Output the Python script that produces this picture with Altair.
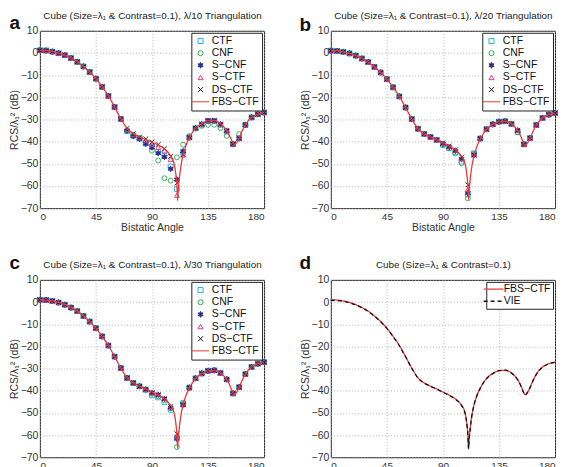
import altair as alt
import pandas as pd

# ---------------- data ----------------
ANGLES = [0, 5, 10, 15, 20, 25, 30, 35, 40, 45, 50, 55, 60, 65, 70, 75, 80, 85, 90,
          95, 100, 105, 110, 115, 120, 125, 130, 135, 140, 145, 150, 155, 160, 165,
          170, 175, 180]

SERIES = ["CTF", "CNF", "S−CNF", "S−CTF", "DS−CTF"]
LINE_NAME = "FBS−CTF"

# panel a (lambda/10)
A_CTF = [1.2, 1.1, 0.6, -0.1, -1.0, -2.3, -4.0, -6.1, -8.6, -11.6, -15.3, -19.4, -24.4, -29.8,
         -35.3, -37.3, -38.6, -40.8, -42.3, -44.6, -46.5, -51.2, -61.4, -45.0,
         -38.2, -34.0, -32.3, -30.7, -30.7, -32.4, -35.5, -41.2, -38.5, -32.5, -29.1, -27.7, -26.9]
A_CNF = [1.2, 1.1, 0.6, -0.1, -1.0, -2.3, -4.0, -6.1, -8.6, -11.6, -15.3, -19.4, -24.4, -29.8,
         -35.2, -37.0, -38.5, -40.3, -44.1, -48.5, -56.5, -57.6, -47.1, -41.4,
         -37.5, -34.0, -32.9, -32.4, -32.4, -33.9, -37.4, -41.2, -36.6, -32.4, -29.0, -27.6, -26.8]
A_SCNF = [1.2, 1.1, 0.6, -0.1, -1.0, -2.3, -4.0, -6.1, -8.6, -11.6, -15.3, -19.4, -24.4, -29.8,
          -35.0, -37.6, -38.8, -41.0, -42.6, -45.2, -46.9, -52.3, -57.0, -44.3,
          -38.1, -33.9, -32.2, -30.6, -30.6, -32.2, -35.1, -41.1, -38.6, -32.5, -29.1, -27.6, -26.9]
A_SCTF = [1.2, 1.1, 0.6, -0.1, -1.0, -2.3, -4.0, -6.1, -8.6, -11.6, -15.3, -19.4, -24.4, -29.7,
          -34.5, -36.8, -38.2, -39.5, -41.2, -42.5, -44.1, -48.0, -64.2, -46.0,
          -38.0, -33.9, -32.1, -30.4, -30.4, -32.1, -35.0, -41.0, -38.4, -32.4, -29.0, -27.6, -26.8]
A_DS = [1.2, 1.1, 0.6, -0.1, -1.0, -2.3, -4.0, -6.1, -8.6, -11.6, -15.3, -19.4, -24.4, -29.7,
        -34.0, -36.5, -38.0, -38.8, -40.2, -41.3, -43.2, -46.7, -58.7, -45.9,
        -38.0, -33.9, -32.1, -30.4, -30.4, -32.1, -35.0, -41.0, -38.4, -32.4, -29.0, -27.6, -26.8]

# panel b (lambda/20)
B_CTF = [1.0, 0.9, 0.5, -0.2, -1.2, -2.5, -4.1, -6.3, -8.8, -11.8, -15.5, -19.6, -24.6, -29.8,
         -34.2, -36.5, -37.9, -39.2, -41.4, -42.9, -44.8, -49.0, -63.8, -45.3,
         -38.6, -34.4, -32.2, -31.0, -30.8, -32.0, -35.6, -41.2, -38.4, -32.5, -29.3, -27.8, -27.1]
B_CNF = [1.0, 0.9, 0.5, -0.2, -1.2, -2.5, -4.1, -6.3, -8.8, -11.8, -15.5, -19.6, -24.6, -29.8,
         -34.2, -36.5, -37.9, -39.3, -41.6, -43.1, -45.3, -49.7, -65.6, -45.5,
         -38.6, -34.4, -32.2, -31.0, -30.8, -32.0, -35.8, -41.2, -38.4, -32.5, -29.3, -27.8, -27.1]
B_SCNF = [1.0, 0.9, 0.5, -0.2, -1.2, -2.5, -4.1, -6.3, -8.8, -11.8, -15.5, -19.6, -24.6, -29.8,
          -34.2, -36.5, -37.9, -39.2, -41.0, -42.5, -44.2, -47.8, -63.2, -46.0,
          -38.6, -34.4, -32.2, -31.0, -30.8, -32.0, -34.9, -41.2, -38.4, -32.5, -29.3, -27.8, -27.1]
B_SCTF = [1.0, 0.9, 0.5, -0.2, -1.2, -2.5, -4.1, -6.3, -8.8, -11.8, -15.5, -19.6, -24.6, -29.8,
          -34.2, -36.5, -37.9, -39.2, -40.6, -42.0, -43.7, -47.5, -61.5, -46.0,
          -38.6, -34.4, -32.2, -31.0, -30.8, -32.0, -34.9, -41.2, -38.4, -32.5, -29.3, -27.8, -27.1]
B_DS = [1.0, 0.9, 0.5, -0.2, -1.2, -2.5, -4.1, -6.3, -8.8, -11.8, -15.5, -19.6, -24.6, -29.8,
        -34.2, -36.5, -37.9, -39.2, -40.6, -42.0, -43.7, -47.0, -59.5, -46.0,
        -38.6, -34.4, -32.2, -31.0, -30.8, -32.0, -34.9, -41.2, -38.4, -32.5, -29.3, -27.8, -27.1]

# panel c (lambda/30)
C_CTF = [1.0, 0.9, 0.5, -0.2, -1.2, -2.5, -4.1, -6.3, -8.8, -11.8, -15.5, -19.6, -24.6, -29.8,
         -34.2, -36.5, -38.0, -39.6, -42.1, -43.0, -45.1, -48.6, -61.5, -45.6,
         -38.6, -34.4, -32.2, -31.0, -30.8, -32.0, -34.9, -41.2, -38.4, -32.5, -29.3, -27.8, -27.1]
C_CNF = [1.0, 0.9, 0.5, -0.2, -1.2, -2.5, -4.1, -6.3, -8.8, -11.8, -15.5, -19.6, -24.6, -29.8,
         -34.2, -36.5, -38.0, -39.5, -41.5, -42.6, -44.3, -48.0, -65.4, -45.8,
         -38.6, -34.4, -32.2, -31.0, -30.8, -32.0, -34.9, -41.2, -38.4, -32.5, -29.3, -27.8, -27.1]
C_SCNF = [1.0, 0.9, 0.5, -0.2, -1.2, -2.5, -4.1, -6.3, -8.8, -11.8, -15.5, -19.6, -24.6, -29.8,
          -34.2, -36.5, -38.0, -39.4, -40.9, -41.8, -43.6, -47.6, -61.6, -46.3,
          -38.6, -34.4, -32.2, -31.0, -30.8, -32.0, -34.9, -41.2, -38.4, -32.5, -29.3, -27.8, -27.1]
C_SCTF = [1.0, 0.9, 0.5, -0.2, -1.2, -2.5, -4.1, -6.3, -8.8, -11.8, -15.5, -19.6, -24.6, -29.8,
          -34.2, -36.5, -38.0, -39.4, -40.9, -41.8, -43.6, -47.2, -60.5, -46.3,
          -38.6, -34.4, -32.2, -31.0, -30.8, -32.0, -34.9, -41.2, -38.4, -32.5, -29.3, -27.8, -27.1]
C_DS = [1.0, 0.9, 0.5, -0.2, -1.2, -2.5, -4.1, -6.3, -8.8, -11.8, -15.5, -19.6, -24.6, -29.8,
        -34.2, -36.5, -38.0, -39.4, -40.9, -41.8, -43.6, -47.2, -59.4, -46.3,
        -38.6, -34.4, -32.2, -31.0, -30.8, -32.0, -34.9, -41.2, -38.4, -32.5, -29.3, -27.8, -27.1]

# FBS-CTF reference curve (finer angular sampling near the nulls)
LINE_ANGLES = [0, 5, 10, 15, 20, 25, 30, 35, 40, 45, 50, 55, 60, 65, 70, 75, 80, 85, 90, 95,
               100, 105, 107, 108, 109, 110, 110.6, 111, 112, 113, 114, 115, 117, 120, 125,
               130, 135, 140, 145, 150, 152, 154, 156, 158, 160, 162, 165, 170, 175, 180]
A_FBS = [1.2, 1.1, 0.6, -0.1, -1.0, -2.3, -4.0, -6.1, -8.6, -11.6, -15.3, -19.4, -24.4, -29.7,
         -34.0, -36.5, -38.0, -39.0, -40.3, -41.5, -43.3, -46.4,
         -48.4, -50.5, -54.0, -59.3, -66.5, -62.5, -56.5, -52.0, -48.6, -46.0,
         -42.2, -38.2, -34.0, -32.0, -30.5, -30.4, -32.0, -35.0,
         -37.0, -39.4, -41.5, -40.4, -38.4, -35.6, -32.4, -29.0, -27.6, -26.8]
FBS = [1.0, 0.9, 0.5, -0.2, -1.2, -2.5, -4.1, -6.3, -8.8, -11.8, -15.5, -19.6, -24.6, -29.8,
       -34.2, -36.5, -37.9, -39.2, -40.6, -42.0, -43.7, -46.6,
       -48.6, -50.6, -54.0, -59.5, -66.0, -62.5, -56.5, -52.0, -48.8, -46.3,
       -42.6, -38.8, -34.5, -32.2, -31.0, -30.8, -32.0, -35.0,
       -37.0, -39.6, -41.8, -40.6, -38.5, -35.8, -32.5, -29.3, -27.8, -27.1]
VIE = [0.8, 0.7, 0.3, -0.3, -1.3, -2.6, -4.2, -6.4, -8.9, -11.9, -15.6, -19.7, -24.7, -29.9,
       -34.3, -36.6, -38.0, -39.3, -40.7, -42.1, -43.8, -46.7,
       -48.7, -50.7, -54.2, -59.8, -66.2, -62.7, -56.6, -52.1, -48.9, -46.4,
       -42.7, -38.9, -34.6, -32.3, -30.9, -30.7, -32.0, -35.1,
       -37.1, -39.8, -42.0, -40.7, -38.6, -35.9, -32.6, -29.4, -27.9, -27.2]

X_TICKS = [0, 45, 90, 135, 180]
Y_TICKS = [-70, -60, -50, -40, -30, -20, -10, 0, 10]

TITLES = ["Cube (Size=λ₁ & Contrast=0.1), λ/10 Triangulation",
          "Cube (Size=λ₁ & Contrast=0.1), λ/20 Triangulation",
          "Cube (Size=λ₁ & Contrast=0.1), λ/30 Triangulation",
          "Cube (Size=λ₁ & Contrast=0.1)"]
LETTERS = ["a", "b", "c", "d"]

# ---------------- style ----------------
W, H = 225, 178
FONT = "Liberation Sans"
COL_CTF, COL_CNF, COL_SCNF, COL_SCTF, COL_DS, COL_RED = (
    "#22b2e4", "#2aa84a", "#2b2d8c", "#e0368f", "#1a1a1a", "#e8393b")
STAR = ("M0,-1.15L0.29,-0.5L1,-0.58L0.58,0L1,0.58L0.29,0.5L0,1.15L-0.29,0.5L-1,0.58"
        "L-0.58,0L-1,-0.58L-0.29,-0.5Z")
XMARK = "M-1,-1L1,1M1,-1L-1,1"
LEGLINE = "M-3.4,0L3.4,0"

LEG_DOMAIN = SERIES + [LINE_NAME]

xscale = alt.Scale(domain=[0, 180], nice=False, zero=False)
yscale = alt.Scale(domain=[-70, 10], nice=False, zero=False)

grid_kw = dict(gridDash=[1, 2], gridColor="#a0a0a0", gridWidth=0.8)


def bottom_axis():
    return alt.Axis(orient="bottom", values=X_TICKS, title="Bistatic Angle", grid=True, ticks=False,
                    domain=False, labelPadding=3, titlePadding=1, labelFontSize=10,
                    titleFontSize=10.5, labelColor="#333", titleColor="#333",
                    titleFontWeight="normal", **grid_kw)


def top_axis(title):
    return alt.Axis(orient="top", title=title, labels=False, ticks=False, domain=False, grid=False,
                    titleFontSize=9.9, titleFontWeight="normal", titleColor="#222",
                    titleBaseline="alphabetic", titleY=-12.6)


def left_axis():
    return alt.Axis(orient="left", values=Y_TICKS, title="RCS/λ₁² (dB)", grid=True, ticks=False,
                    domain=False, labelPadding=2, titlePadding=1, labelFontSize=10.5,
                    titleFontSize=10.5, labelColor="#333", titleColor="#333",
                    titleFontWeight="normal", **grid_kw)


def letter_title(letter, dy):
    return alt.TitleParams(letter, orient="left", anchor="end", frame="group", angle=0,
                           align="left", baseline="alphabetic", fontSize=19, fontWeight="bold",
                           font=FONT, color="#111", dy=dy, offset=-11)


def marker_panel(idx, arrays, fbs, dy):
    rows = []
    for name, vals in zip(SERIES, arrays):
        for a, v in zip(ANGLES, vals):
            rows.append({"angle": a, "rcs": v, "series": name, "panel": LETTERS[idx]})
    pts_df = pd.DataFrame(rows)
    line_df = pd.DataFrame({"angle": LINE_ANGLES, "rcs": fbs, "panel": LETTERS[idx]})

    leg = alt.Legend(title=None, orient="top-right", offset=2, padding=3, strokeColor="#222",
                     fillColor="white", labelFontSize=10.5, labelColor="#111", labelFont=FONT,
                     symbolSize=26, symbolStrokeWidth=1, symbolOffset=1, labelOffset=6,
                     rowPadding=1.2)

    pts = alt.Chart(pts_df).mark_point(filled=True, size=24, strokeWidth=0.9, opacity=1).encode(
        x=alt.X("angle:Q", scale=xscale, axis=top_axis(TITLES[idx])),
        y=alt.Y("rcs:Q", scale=yscale, axis=left_axis()),
        stroke=alt.Stroke("series:N", legend=leg,
                          scale=alt.Scale(domain=LEG_DOMAIN,
                                          range=[COL_CTF, COL_CNF, COL_SCNF, COL_SCTF, COL_DS, COL_RED])),
        fill=alt.Fill("series:N", legend=leg,
                      scale=alt.Scale(domain=LEG_DOMAIN,
                                      range=["transparent", "transparent", COL_SCNF, "transparent",
                                             "transparent", "transparent"])),
        shape=alt.Shape("series:N", legend=leg,
                        scale=alt.Scale(domain=LEG_DOMAIN,
                                        range=["square", "circle", STAR, "triangle-up", XMARK, LEGLINE])),
    )
    line = alt.Chart(line_df).mark_line(color=COL_RED, strokeWidth=1.3, interpolate="monotone").encode(
        x=alt.X("angle:Q", scale=xscale, axis=bottom_axis()),
        y=alt.Y("rcs:Q", scale=yscale, axis=left_axis()),
    )
    return alt.layer(pts, line).properties(width=W, height=H, title=letter_title(LETTERS[idx], dy))


def line_panel(dy):
    rows = []
    for name, vals in zip([LINE_NAME, "VIE"], [FBS, VIE]):
        for a, v in zip(LINE_ANGLES, vals):
            rows.append({"angle": a, "rcs": v, "series": name, "panel": "d"})
    df = pd.DataFrame(rows)
    legd = alt.Legend(title=None, orient="top-right", offset=2, padding=2, strokeColor="#222",
                      fillColor="white", labelFontSize=10.5, labelColor="#111", labelFont=FONT,
                      symbolType=LEGLINE, symbolSize=34, symbolStrokeWidth=1.3, symbolOffset=0,
                      labelOffset=5, rowPadding=1.2)
    lines = alt.Chart(df).mark_line(strokeWidth=1.3, interpolate="monotone").encode(
        x=alt.X("angle:Q", scale=xscale, axis=bottom_axis()),
        y=alt.Y("rcs:Q", scale=yscale, axis=left_axis()),
        stroke=alt.Stroke("series:N", legend=legd,
                          scale=alt.Scale(domain=[LINE_NAME, "VIE"], range=[COL_RED, "#111111"])),
        strokeDash=alt.StrokeDash("series:N", legend=legd,
                                  scale=alt.Scale(domain=[LINE_NAME, "VIE"], range=[[1, 0], [4, 3]])),
    )
    top = alt.Chart(df).mark_point(opacity=0).encode(
        x=alt.X("angle:Q", scale=xscale, axis=top_axis(TITLES[3])),
        y=alt.Y("rcs:Q", scale=yscale, axis=left_axis()),
    )
    return alt.layer(top, lines).properties(width=W, height=H, title=letter_title("d", dy))


IND = dict(stroke="independent", fill="independent", shape="independent",
           strokeDash="independent", x="independent", y="independent")

pa = marker_panel(0, [A_CTF, A_CNF, A_SCNF, A_SCTF, A_DS], A_FBS, -2)
pb = marker_panel(1, [B_CTF, B_CNF, B_SCNF, B_SCTF, B_DS], FBS, 0)
pc = marker_panel(2, [C_CTF, C_CNF, C_SCNF, C_SCTF, C_DS], FBS, -11)
pd_ = line_panel(-11)

chart = alt.concat(pa, pb, pc, pd_, columns=2, spacing={"row": 20, "column": 30}).resolve_scale(
    **IND).resolve_legend(
    stroke="independent", fill="independent", shape="independent", strokeDash="independent"
).properties(padding=0).configure(font=FONT).configure_view(stroke="#222", strokeWidth=1)

chart.save("out.html", embed_options={"renderer": "svg", "actions": False})
